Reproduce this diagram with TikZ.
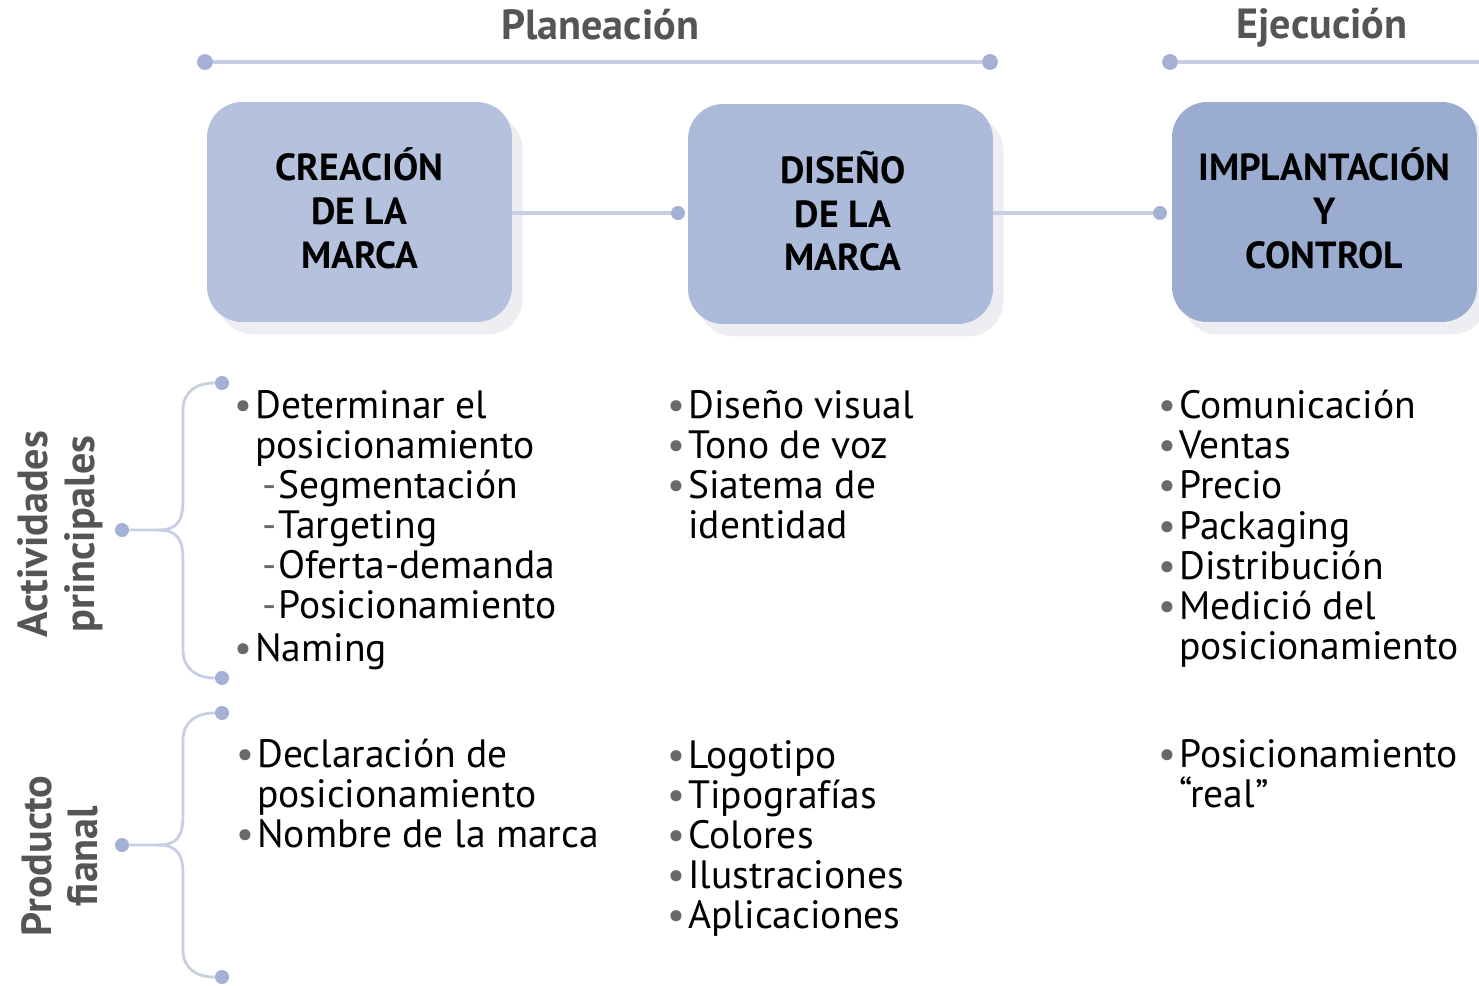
\documentclass[tikz,border=0pt]{standalone}
\usepackage{fontspec}
\setmainfont{PT Sans}
\usetikzlibrary{shadows, positioning}
\definecolor{linegray}{RGB}{200,207,228}
\definecolor{dotblue}{RGB}{164,177,212}
\definecolor{boxone}{RGB}{181,194,222}
\definecolor{boxtwo}{RGB}{173,187,218}
\definecolor{boxthree}{RGB}{155,172,209}
\definecolor{headgray}{RGB}{85,85,85}
\definecolor{bulgray}{RGB}{105,105,105}

\newcommand{\bul}{\llap{{\color{bulgray}\textbullet}\hspace{1.5pt}}}
\newcommand{\subi}{\hspace{4pt}{\color{bulgray}-}\hspace{1pt}}

\begin{document}
\begin{tikzpicture}[x=0.02cm, y=-0.02cm,
  stagebox/.style={rounded corners=20pt, minimum width=6.1cm, minimum height=4.4cm,
    drop shadow={shadow xshift=6pt, shadow yshift=-7pt, opacity=0.07, fill=blue!30!black}},
  stagetext/.style={align=center, font=\fontsize{21.5}{25}\selectfont\bfseries},
  dot/.style={circle, fill=dotblue, inner sep=0pt, minimum size=9pt},
  smalldot/.style={circle, fill=dotblue, inner sep=0pt, minimum size=8pt},
  phase/.style={font=\fontsize{24}{28}\selectfont\bfseries, text=headgray},
  rowlabel/.style={rotate=90, align=center, font=\fontsize{24}{26.5}\selectfont\bfseries, text=headgray},
  listtext/.style={anchor=north west, align=left, inner sep=0pt, font=\fontsize{22.5}{22.8}\selectfont},
  topline/.style={linegray, line width=2pt},
  brace/.style={linegray, line width=1.6pt}]
  \useasboundingbox (0,0) rectangle (1479,985);

  % Phases
  \node[phase] (plan) at (600,25) {Planeación};
  \node[phase] (ejec) at (1322,28) {Ejecución};
  \node[dot] (p1) at (205,62) {};
  \node[dot] (p2) at (990,62) {};
  \node[dot] (e1) at (1170,62) {};
  \coordinate (e2) at (1479,62);
  \draw[topline] (p1) -- (p2);
  \draw[topline] (e1) -- (e2);

  % Stages
  \node[stagebox, fill=boxone] (crea) at (359.5,212) {};
  \node[stagebox, fill=boxtwo] (dise) at (840.5,214) {};
  \node[stagebox, fill=boxthree] (impl) at (1324.5,212) {};
  \node[stagetext] (creat) at (359.5,208) {CREACIÓN\\DE LA\\MARCA};
  \node[stagetext] (diset) at (843,211) {DISEÑO\\DE LA\\MARCA};
  \node[stagetext] (implt) at (1324.5,208) {IMPLANTACIÓN\\Y\\CONTROL};
  \node[smalldot] (c1) at (678,213) {};
  \node[smalldot] (c2) at (1160,213) {};
  \draw[topline] (crea.east |- c1) -- (c1);
  \draw[topline] (dise.east |- c2) -- (c2);

  % Row labels and braces
  \node[rowlabel] (act) at (60,534) {Actividades\\principales};
  \node[rowlabel] (prod) at (60,856) {Producto\\fianal};
  \node[smalldot] (am) at (122,530) {};
  \node[smalldot] (at) at (222,383) {};
  \node[smalldot] (ab) at (222,678) {};
  \node[smalldot] (pm) at (122,845) {};
  \node[smalldot] (pt) at (222,713) {};
  \node[smalldot] (pb) at (222,977) {};
  \draw[brace] (am) -- (158,530) .. controls (178,530) and (183,520) .. (183,500)
    -- (183,410) .. controls (183,392) and (196,383) .. (at);
  \draw[brace] (158,530) .. controls (178,530) and (183,540) .. (183,560)
    -- (183,650) .. controls (183,668) and (196,678) .. (ab);
  \draw[brace] (pm) -- (158,845) .. controls (178,845) and (183,835) .. (183,815)
    -- (183,740) .. controls (183,722) and (196,713) .. (pt);
  \draw[brace] (158,845) .. controls (178,845) and (183,855) .. (183,875)
    -- (183,950) .. controls (183,968) and (196,977) .. (pb);

  % Actividades principales
  \node[listtext] (act1) at (255,390) {\bul Determinar el\\posicionamiento\\
    \subi Segmentación\\\subi Targeting\\\subi Oferta-demanda\\\subi Posicionamiento\\[1.5pt]
    \bul Naming};
  \node[listtext] (act2) at (688,390) {\bul Diseño visual\\\bul Tono de voz\\
    \bul Siatema de\\identidad};
  \node[listtext] (act3) at (1179,390) {\bul Comunicación\\\bul Ventas\\\bul Precio\\
    \bul Packaging\\\bul Distribución\\\bul Medició del\\posicionamiento};

  % Producto final
  \node[listtext] (prod1) at (257,739) {\bul Declaración de\\posicionamiento\\
    \bul Nombre de la marca};
  \node[listtext] (prod2) at (688,740) {\bul Logotipo\\\bul Tipografías\\\bul Colores\\
    \bul Ilustraciones\\\bul Aplicaciones};
  \node[listtext] (prod3) at (1179,739) {\bul Posicionamiento\\“real”};
\end{tikzpicture}
\end{document}
